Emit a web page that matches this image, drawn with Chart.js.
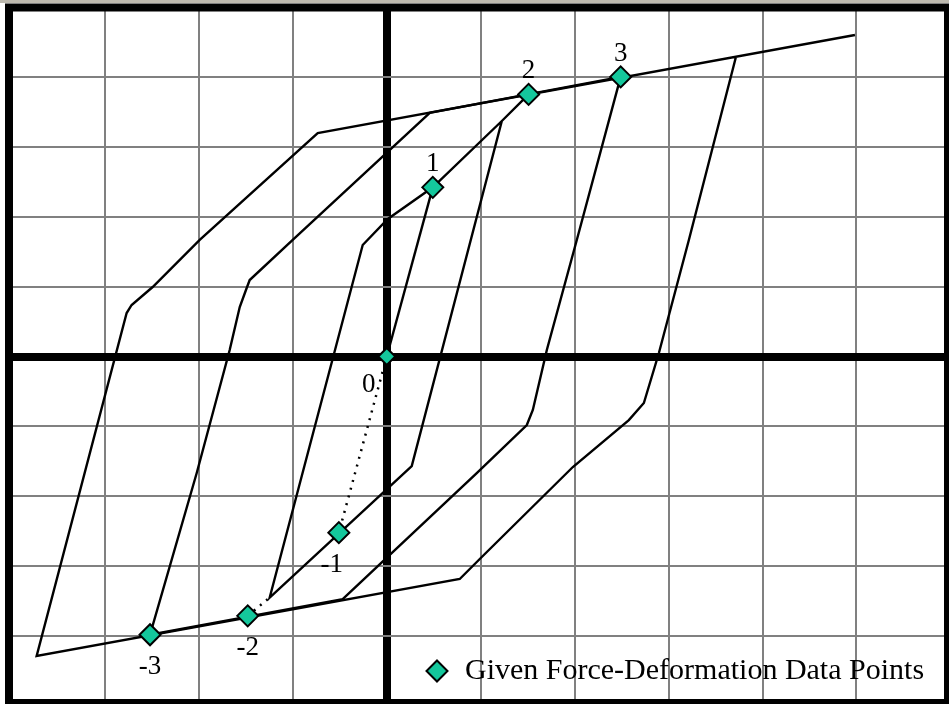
<!DOCTYPE html>
<html>
<head>
<meta charset="utf-8">
<title>Force-Deformation Hysteresis</title>
<script src="https://cdn.jsdelivr.net/npm/chart.js@4.4.1/dist/chart.umd.min.js"></script>
<style>
  html, body { margin: 0; padding: 0; background: #fff; overflow: hidden; }
  #wrap { position: relative; width: 949px; height: 704px; }
</style>
</head>
<body>
<div id="wrap"><canvas id="chart"></canvas></div>
<script>
// given force-deformation data points (deformation, force)
const pointLabels = ['0', '1', '-1', '2', '-2', '3', '-3'];
const pointDeform = [0, 0.49, -0.51, 1.51, -1.48, 2.49, -2.52];
const pointForce  = [0, 2.42, -2.52, 3.75, -3.71, 4.00, -3.98];

// initial elastic branch
const initialX = [0, 0.49];
const initialY = [0, 2.42];

// cycle to +/-1 .. +/-2
const loop1X = [1.225, 0.266, -1.246, -0.256, 0.011, 0.49, 1.225, 1.51];
const loop1Y = [3.369, -1.567, -3.448, 1.595, 1.967, 2.42, 3.369, 3.75];

// cycle to +/-3
const loop2X = [2.49, 2.023, 1.704, 1.555, 1.491, 0.958, -0.469, -2.52, -2.023, -1.672, -1.565, -1.491, -1.459, -1.001, 0.458, 2.49];
const loop2Y = [4.00, 1.667, 0.093, -0.765, -0.98, -1.667, -3.47, -3.98, -1.667, 0.093, 0.708, 0.98, 1.094, 1.667, 3.485, 4.00];

// outer cycle and final excursion
const loop3X = [3.717, 3.216, 2.897, 2.737, 2.577, 1.981, 0.990, 0.777, -3.727, -2.769, -2.716, -2.492, -1.991, -0.735, 4.984];
const loop3Y = [4.285, 1.667, 0.05, -0.665, -0.909, -1.581, -2.897, -3.183, -4.284, 0.622, 0.737, 0.994, 1.667, 3.197, 4.60];

// dotted links from data points to the model path
const dot1X = [0, -0.51];
const dot1Y = [0, -2.52];
const dot2X = [-1.48, -1.246];
const dot2Y = [-3.71, -3.448];

// axis ranges
const xMin = -4, xMax = 5.932;
const yMin = -4.914, yMax = 5.0;

const legendText = 'Given Force-Deformation Data Points';
const markerColor = '#14c79c';

function pairs(xs, ys) {
    return xs.map((x, i) => ({ x: x, y: ys[i] }));
}

function lineSet(xs, ys, dashed) {
    return {
        data: pairs(xs, ys),
        showLine: true,
        borderColor: '#000',
        borderWidth: dashed ? 2.5 : 2.4,
        borderDash: dashed ? [2, 6] : [],
        pointRadius: 0,
        tension: 0,
        fill: false
    };
}

function diamond(ctx, x, y, r) {
    ctx.beginPath();
    ctx.moveTo(x, y - r);
    ctx.lineTo(x + r, y);
    ctx.lineTo(x, y + r);
    ctx.lineTo(x - r, y);
    ctx.closePath();
    ctx.fillStyle = markerColor;
    ctx.fill();
    ctx.lineWidth = 2;
    ctx.strokeStyle = '#000';
    ctx.stroke();
}

const framePlugin = {
    id: 'frame',
    beforeDraw(chart) {
        const ctx = chart.ctx;
        ctx.save();
        ctx.fillStyle = '#fff';
        ctx.fillRect(0, 0, chart.width, chart.height);
        ctx.fillStyle = '#bdb9ae';
        ctx.fillRect(0, 0, chart.width, 3);
        ctx.restore();
    },
    afterDraw(chart) {
        const ctx = chart.ctx;
        const area = chart.chartArea;
        const meta = chart.getDatasetMeta(0);
        ctx.save();

        // point labels
        ctx.fillStyle = '#000';
        ctx.font = '27px "Liberation Serif", "Times New Roman", serif';
        ctx.textAlign = 'center';
        ctx.textBaseline = 'alphabetic';
        meta.data.forEach((pt, i) => {
            const v = pointForce[i];
            let lx = pt.x, ly;
            if (v > 0) ly = pt.y - 16;
            else if (v < 0) ly = pt.y + 39;
            else { lx = pt.x - 18; ly = pt.y + 35; }
            if (pointLabels[i] === '-1') lx -= 7;
            ctx.fillText(pointLabels[i], lx, ly);
        });

        // legend
        const lx = area.left + 426;
        const ly = area.bottom - 29;
        diamond(ctx, lx, ly, 10.5);
        ctx.fillStyle = '#000';
        ctx.font = '30px "Liberation Serif", "Times New Roman", serif';
        ctx.textAlign = 'left';
        ctx.fillText(legendText, lx + 28, ly + 8);

        // heavy outer frame
        ctx.lineWidth = 8;
        ctx.strokeStyle = '#000';
        ctx.strokeRect(9, 7.5, 939, 695.5);
        ctx.restore();
    }
};

function intTicks(scale) {
    const ticks = [];
    for (let v = Math.ceil(scale.min); v <= Math.floor(scale.max); v++) ticks.push({ value: v });
    scale.ticks = ticks;
}

const gridOpts = {
    color: ctx => ctx.tick && ctx.tick.value === 0 ? '#000' : '#808080',
    lineWidth: ctx => ctx.tick && ctx.tick.value === 0 ? 8 : 2,
    drawTicks: false
};

new Chart(document.getElementById('chart'), {
    type: 'scatter',
    data: {
        datasets: [
            {
                data: pairs(pointDeform, pointForce),
                showLine: false,
                pointStyle: 'rectRot',
                pointRadius: ctx => ctx.dataIndex === 0 ? 8.5 : 10.5,
                backgroundColor: markerColor,
                borderColor: '#000',
                pointBorderWidth: 2
            },
            lineSet(dot1X, dot1Y, true),
            lineSet(dot2X, dot2Y, true),
            lineSet(initialX, initialY, false),
            lineSet(loop1X, loop1Y, false),
            lineSet(loop2X, loop2Y, false),
            lineSet(loop3X, loop3Y, false)
        ]
    },
    options: {
        responsive: true,
        maintainAspectRatio: false,
        animation: false,
        layout: { autoPadding: false, padding: { left: 11, top: 7, right: 5, bottom: 4 } },
        plugins: {
            legend: { display: false },
            tooltip: { enabled: false }
        },
        scales: {
            x: {
                type: 'linear',
                min: xMin,
                max: xMax,
                afterBuildTicks: intTicks,
                ticks: { display: false },
                border: { display: false },
                grid: gridOpts
            },
            y: {
                type: 'linear',
                min: yMin,
                max: yMax,
                afterBuildTicks: intTicks,
                ticks: { display: false },
                border: { display: false },
                grid: gridOpts
            }
        }
    },
    plugins: [framePlugin]
});
</script>
</body>
</html>
